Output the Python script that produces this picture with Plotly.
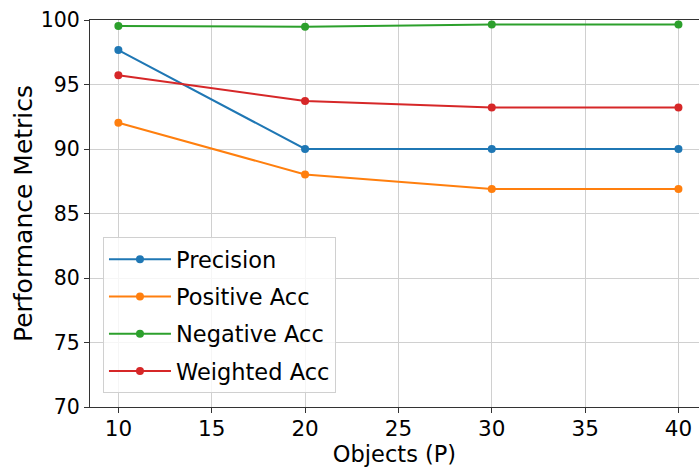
import plotly.graph_objects as go

objects = [10, 20, 30, 40]
precision = [97.67, 90.0, 90.0, 90.0]
positive_acc = [92.03, 88.03, 86.9, 86.9]
negative_acc = [99.53, 99.48, 99.66, 99.66]
weighted_acc = [95.71, 93.73, 93.22, 93.22]

series = [
    ("Precision", precision, "#1f77b4"),
    ("Positive Acc", positive_acc, "#ff7f0e"),
    ("Negative Acc", negative_acc, "#2ca02c"),
    ("Weighted Acc", weighted_acc, "#d62728"),
]

FONT = "DejaVu Sans"
fig = go.Figure()
for i, (name, vals, col) in enumerate(series):
    fig.add_trace(go.Scatter(
        x=objects, y=vals, name=name, mode="lines+markers",
        line=dict(color=col, width=2),
        marker=dict(color=col, size=8),
        legendgroup=f"g{i}",
    ))

fig.update_layout(
    width=699, height=468,
    margin=dict(l=90, r=0, t=20, b=61, autoexpand=False),
    paper_bgcolor="white", plot_bgcolor="white",
    font=dict(family=FONT, size=22, color="black"),
    showlegend=True,
    legend=dict(
        x=0.0213, y=0.036, xanchor="left", yanchor="bottom",
        bgcolor="rgba(255,255,255,0.8)", bordercolor="#d0d0d0", borderwidth=1,
        font=dict(family=FONT, size=22.5, color="black"),
        tracegroupgap=5,
        itemwidth=62,
    ),
)
fig.update_xaxes(
    range=[8.48, 41.1], tickvals=[10, 15, 20, 25, 30, 35, 40],
    showgrid=True, gridcolor="#d0d0d0", gridwidth=1,
    showline=True, linecolor="#333333", linewidth=1.2, mirror=True,
    ticks="outside", ticklen=5, tickcolor="#333333",
    tickfont=dict(family=FONT, size=21.5), ticklabelstandoff=-3,
    title=dict(text="Objects (P)", font=dict(family=FONT, size=22.5), standoff=4),
    zeroline=False, automargin=False,
)
fig.update_yaxes(
    range=[70, 100], tickvals=[70, 75, 80, 85, 90, 95, 100],
    showgrid=True, gridcolor="#d0d0d0", gridwidth=1,
    showline=True, linecolor="#333333", linewidth=1.2,
    ticks="outside", ticklen=5, tickcolor="#333333",
    tickfont=dict(family=FONT, size=20.5),
    title=dict(text="Performance Metrics", font=dict(family=FONT, size=25), standoff=0),
    zeroline=False, automargin=False,
)
fig.write_html("out.html", config={"displayModeBar": False},
               post_script="document.body.style.margin='0';document.body.style.padding='0';")
